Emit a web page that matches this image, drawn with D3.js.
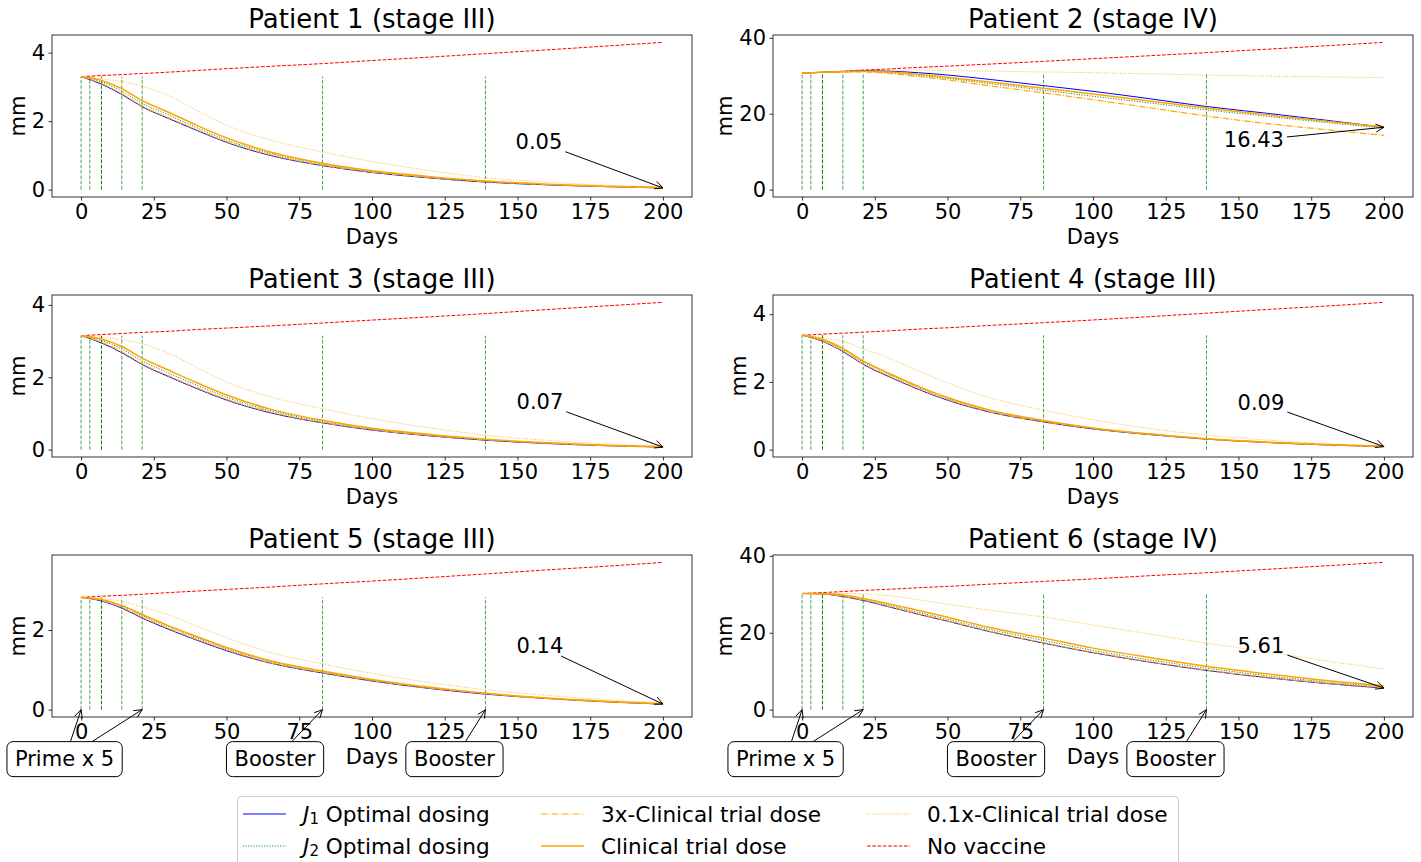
<!DOCTYPE html>
<html>
<head>
<meta charset="utf-8">
<script src="https://cdn.jsdelivr.net/npm/d3@7"></script>
<style>
  body { margin: 0; background: #fff; }
  svg { display: block; font-family: "DejaVu Sans", sans-serif; }
</style>
</head>
<body>
<div id="chart"></div>
<script>
// sampled days for every curve
const days = [0, 7, 14, 21, 30, 40, 50, 65, 83, 100, 120, 139, 160, 180, 200];
// vaccine doses (prime x 5, then two boosters)
const doseDays = [0, 3, 7, 14, 21, 83, 139];
const xTicks = [0, 25, 50, 75, 100, 125, 150, 175, 200];

const titles = ["Patient 1 (stage III)", "Patient 2 (stage IV)", "Patient 3 (stage III)",
                "Patient 4 (stage III)", "Patient 5 (stage III)", "Patient 6 (stage IV)"];
const yTicks = [[0, 2, 4], [0, 20, 40], [0, 2, 4], [0, 2, 4], [0, 2], [0, 20, 40]];
const finalLabels = ["0.05", "16.43", "0.07", "0.09", "0.14", "5.61"];

// tumour size (mm), one row per patient
const j1Optimal = [
  [3.30, 3.08, 2.78, 2.42, 2.08, 1.72, 1.38, 1.00, 0.70, 0.50, 0.34, 0.22, 0.14, 0.09, 0.05],
  [30.7, 30.9, 31.1, 31.3, 31.2, 30.8, 30.2, 29.0, 27.4, 25.9, 23.9, 21.9, 20.1, 18.3, 16.43],
  [3.15, 2.95, 2.68, 2.35, 2.02, 1.68, 1.37, 1.02, 0.74, 0.54, 0.38, 0.26, 0.17, 0.11, 0.07],
  [3.38, 3.20, 2.90, 2.52, 2.15, 1.78, 1.46, 1.10, 0.82, 0.61, 0.44, 0.31, 0.21, 0.14, 0.09],
  [2.82, 2.73, 2.55, 2.30, 2.02, 1.74, 1.48, 1.17, 0.92, 0.72, 0.53, 0.39, 0.28, 0.20, 0.14],
  [30.2, 30.1, 29.4, 28.4, 26.7, 24.8, 23.0, 20.2, 17.3, 14.8, 12.3, 10.2, 8.3, 6.8, 5.61]
];
const j2Optimal = [
  [3.30, 3.15, 2.88, 2.52, 2.18, 1.80, 1.45, 1.06, 0.74, 0.53, 0.37, 0.24, 0.15, 0.09, 0.06],
  [30.7, 30.9, 31.0, 31.1, 30.8, 30.1, 29.3, 27.9, 26.2, 24.6, 22.8, 21.0, 19.3, 17.7, 16.2],
  [3.15, 3.02, 2.78, 2.45, 2.12, 1.77, 1.45, 1.08, 0.78, 0.57, 0.41, 0.28, 0.19, 0.12, 0.08],
  [3.38, 3.24, 2.96, 2.59, 2.22, 1.84, 1.51, 1.14, 0.85, 0.63, 0.46, 0.32, 0.22, 0.14, 0.09],
  [2.82, 2.76, 2.60, 2.36, 2.08, 1.80, 1.53, 1.21, 0.95, 0.74, 0.55, 0.41, 0.29, 0.20, 0.14],
  [30.2, 30.15, 29.6, 28.6, 27.1, 25.3, 23.5, 20.8, 18.0, 15.4, 12.9, 10.8, 8.8, 7.2, 5.95]
];
const dose3x = [
  [3.30, 3.10, 2.80, 2.44, 2.10, 1.74, 1.40, 1.02, 0.71, 0.51, 0.35, 0.23, 0.15, 0.09, 0.05],
  [30.7, 30.9, 31.0, 31.0, 30.6, 29.8, 28.9, 27.3, 25.5, 23.7, 21.5, 19.4, 17.4, 15.8, 14.3],
  [3.15, 2.97, 2.70, 2.37, 2.04, 1.70, 1.39, 1.04, 0.75, 0.55, 0.39, 0.27, 0.18, 0.11, 0.07],
  [3.38, 3.21, 2.92, 2.54, 2.17, 1.80, 1.48, 1.11, 0.83, 0.62, 0.45, 0.31, 0.21, 0.14, 0.09],
  [2.82, 2.74, 2.57, 2.32, 2.04, 1.76, 1.50, 1.18, 0.93, 0.73, 0.54, 0.40, 0.28, 0.20, 0.14],
  [30.2, 30.1, 29.45, 28.5, 26.8, 24.9, 23.1, 20.3, 17.4, 14.9, 12.4, 10.3, 8.4, 6.9, 5.7]
];
const clinicalDose = [
  [3.30, 3.19, 2.95, 2.60, 2.26, 1.87, 1.51, 1.10, 0.77, 0.55, 0.38, 0.25, 0.16, 0.10, 0.06],
  [30.7, 30.9, 31.1, 31.2, 31.0, 30.4, 29.6, 28.3, 26.7, 25.2, 23.3, 21.5, 19.7, 18.0, 16.5],
  [3.15, 3.06, 2.85, 2.53, 2.20, 1.84, 1.51, 1.12, 0.81, 0.59, 0.42, 0.29, 0.19, 0.12, 0.08],
  [3.38, 3.26, 2.99, 2.62, 2.25, 1.87, 1.54, 1.16, 0.86, 0.64, 0.46, 0.32, 0.22, 0.15, 0.10],
  [2.82, 2.77, 2.62, 2.39, 2.11, 1.83, 1.56, 1.23, 0.97, 0.76, 0.56, 0.41, 0.29, 0.21, 0.15],
  [30.2, 30.2, 29.8, 28.9, 27.5, 25.8, 24.0, 21.3, 18.6, 16.0, 13.5, 11.3, 9.3, 7.6, 6.2]
];
const dose01x = [
  [3.30, 3.23, 3.16, 3.02, 2.75, 2.30, 1.88, 1.45, 1.10, 0.82, 0.55, 0.35, 0.22, 0.13, 0.08],
  [30.7, 30.9, 31.1, 31.4, 31.5, 31.5, 31.4, 31.2, 31.0, 30.8, 30.5, 30.2, 29.9, 29.7, 29.5],
  [3.15, 3.10, 3.04, 2.92, 2.67, 2.26, 1.87, 1.46, 1.13, 0.86, 0.60, 0.40, 0.26, 0.16, 0.10],
  [3.38, 3.31, 3.20, 2.98, 2.70, 2.32, 1.97, 1.52, 1.17, 0.88, 0.62, 0.43, 0.28, 0.18, 0.12],
  [2.82, 2.79, 2.72, 2.58, 2.38, 2.09, 1.81, 1.44, 1.15, 0.91, 0.68, 0.50, 0.36, 0.25, 0.17],
  [30.2, 30.2, 30.2, 30.1, 29.6, 28.6, 27.4, 25.8, 24.1, 22.0, 19.6, 17.3, 15.0, 12.7, 10.6]
];
const noVaccine = [
  [3.30, 3.33, 3.36, 3.39, 3.43, 3.48, 3.53, 3.60, 3.68, 3.77, 3.87, 3.97, 4.08, 4.19, 4.30],
  [30.7, 30.95, 31.2, 31.5, 31.8, 32.2, 32.55, 33.1, 33.8, 34.5, 35.3, 36.1, 37.0, 37.9, 38.8],
  [3.15, 3.18, 3.21, 3.24, 3.27, 3.32, 3.36, 3.42, 3.50, 3.58, 3.67, 3.76, 3.87, 3.97, 4.07],
  [3.38, 3.41, 3.44, 3.47, 3.51, 3.56, 3.60, 3.67, 3.75, 3.83, 3.93, 4.03, 4.14, 4.24, 4.35],
  [2.82, 2.85, 2.87, 2.90, 2.94, 2.98, 3.02, 3.08, 3.16, 3.23, 3.32, 3.41, 3.51, 3.60, 3.70],
  [30.2, 30.45, 30.7, 31.0, 31.3, 31.7, 32.05, 32.65, 33.35, 34.0, 34.85, 35.6, 36.5, 37.4, 38.3]
];

// drawing order: bottom first
const series = [
  { name: "No vaccine", data: noVaccine, color: "red", width: 1, dash: "3.7,1.6", opacity: 1 },
  { name: "0.1x-Clinical trial dose", data: dose01x, color: "orange", width: 1, dash: "1,1.65", opacity: 0.8 },
  { name: "J1", data: j1Optimal, color: "blue", width: 1, dash: null, opacity: 1 },
  { name: "J2", data: j2Optimal, color: "green", width: 1, dash: "1,1.65", opacity: 1 },
  { name: "Clinical trial dose", data: clinicalDose, color: "orange", width: 1.5, dash: null, opacity: 1 },
  { name: "3x-Clinical trial dose", data: dose3x, color: "orange", width: 1.2, dash: "6.4,1.6,1,1.6", opacity: 1 }
];
const byName = {};
series.forEach(s => byName[s.name] = s);

const W = 1421, H = 862;
const panelW = 640, panelH = 162;
const lefts = [52, 773], tops = [35, 295, 555];

const svg = d3.select("#chart").append("svg")
  .attr("width", W)
  .attr("height", H);

// open "->" arrow from (x1,y1) to (x2,y2)
function arrow(g, x1, y1, x2, y2) {
  g.append("line")
    .attr("x1", x1).attr("y1", y1).attr("x2", x2).attr("y2", y2)
    .attr("stroke", "black").attr("stroke-width", 1);
  const ang = Math.atan2(y2 - y1, x2 - x1);
  const len = 9, spread = 0.45;
  const p = [
    [x2 - len * Math.cos(ang - spread), y2 - len * Math.sin(ang - spread)],
    [x2, y2],
    [x2 - len * Math.cos(ang + spread), y2 - len * Math.sin(ang + spread)]
  ];
  g.append("path")
    .attr("d", d3.line()(p))
    .attr("fill", "none").attr("stroke", "black").attr("stroke-width", 1);
}

// point where the line centre->target leaves a box of half sizes hw, hh
function edgePoint(cx, cy, hw, hh, tx, ty) {
  const dx = tx - cx, dy = ty - cy;
  const t = Math.min(hw / Math.abs(dx || 1e-9), hh / Math.abs(dy || 1e-9));
  return [cx + dx * t, cy + dy * t];
}

// offset (px) of the final value label from its arrow tip
const labelOffsets = [[-124, -46], [-130, 13], [-123, -45], [-123, -44], [-123, -58], [-123, -42]];
// dose callouts under the bottom row: box centre offset from x(day), y(0)
const callouts = [
  { text: "Prime x 5", targets: [0, 21], anchorDay: 0, dx: -16.5 },
  { text: "Booster", targets: [83], anchorDay: 83, dx: -47.5 },
  { text: "Booster", targets: [139], anchorDay: 139, dx: -31 }
];

titles.forEach((title, i) => {
  const left = lefts[i % 2], top = tops[Math.floor(i / 2)];
  const g = svg.append("g");

  const dayPad = (d3.max(days) - d3.min(days)) * 0.05;
  const x = d3.scaleLinear()
    .domain([d3.min(days) - dayPad, d3.max(days) + dayPad])
    .range([left, left + panelW]);
  const yMax = d3.max(series, s => d3.max(s.data[i]));
  const yPad = yMax * 0.05;
  const y = d3.scaleLinear()
    .domain([-yPad, yMax + yPad])
    .range([top + panelH, top]);

  // dose markers
  const start = j1Optimal[i][0];
  g.selectAll(".dose")
    .data(doseDays)
    .join("line")
      .attr("x1", d => x(d)).attr("x2", d => x(d))
      .attr("y1", y(0)).attr("y2", y(start))
      .attr("stroke", "green")
      .attr("stroke-width", 1)
      .attr("stroke-dasharray", "3.7,1.6")
      .attr("opacity", (d, k) => k === 2 ? 1 : 0.7);

  const line = d3.line()
    .x((d, k) => x(days[k]))
    .y(d => y(d))
    .curve(d3.curveMonotoneX);

  series.forEach(s => {
    g.append("path")
      .attr("d", line(s.data[i]))
      .attr("fill", "none")
      .attr("stroke", s.color)
      .attr("stroke-width", s.width)
      .attr("stroke-dasharray", s.dash)
      .attr("opacity", s.opacity);
  });

  // frame
  g.append("rect")
    .attr("x", left).attr("y", top)
    .attr("width", panelW).attr("height", panelH)
    .attr("fill", "none").attr("stroke", "black").attr("stroke-width", 0.8);

  const xAxis = g.append("g")
    .attr("transform", `translate(0,${top + panelH})`)
    .call(d3.axisBottom(x).tickValues(xTicks).tickSize(3.5).tickPadding(3.5));
  const yAxis = g.append("g")
    .attr("transform", `translate(${left},0)`)
    .call(d3.axisLeft(y).tickValues(yTicks[i]).tickFormat(d3.format("d"))
      .tickSize(3.5).tickPadding(3.5));
  [xAxis, yAxis].forEach(a => {
    a.select(".domain").remove();
    a.selectAll("text").style("font-size", "21px").attr("fill", "black")
      .style("font-family", "DejaVu Sans");
    a.selectAll("line").attr("stroke-width", 0.8);
  });
  const tickW = d3.max(yAxis.selectAll("text").nodes(), n => n.getBBox().width);

  g.append("text")
    .attr("x", left + panelW / 2).attr("y", top - 7)
    .attr("text-anchor", "middle")
    .style("font-size", "26px")
    .text(title);
  g.append("text")
    .attr("x", left + panelW / 2).attr("y", top + panelH + 47)
    .attr("text-anchor", "middle")
    .style("font-size", "21px")
    .text("Days");
  g.append("text")
    .attr("transform", `translate(${left - 7 - tickW - 7},${top + panelH / 2}) rotate(-90)`)
    .attr("text-anchor", "middle")
    .style("font-size", "21px")
    .text("mm");

  // final value annotation
  const tipX = x(200), tipY = y(j1Optimal[i][days.length - 1]);
  const lx = tipX + labelOffsets[i][0], ly = tipY + labelOffsets[i][1];
  const lab = g.append("text")
    .attr("x", lx).attr("y", ly)
    .attr("text-anchor", "middle")
    .attr("dominant-baseline", "central")
    .style("font-size", "21px")
    .text(finalLabels[i]);
  const bb = lab.node().getBBox();
  const s0 = edgePoint(lx, ly, bb.width / 2 + 3, bb.height / 2 - 2, tipX, tipY);
  arrow(g, s0[0], s0[1], tipX, tipY);

  // dose callouts only under the bottom row
  if (Math.floor(i / 2) === 2) {
    callouts.forEach(c => {
      const cg = g.append("g");
      const cx = x(c.anchorDay) + c.dx, cy = y(0) + 49.5;
      const box = cg.append("rect");
      const t = cg.append("text")
        .attr("x", cx).attr("y", cy)
        .attr("text-anchor", "middle")
        .attr("dominant-baseline", "central")
        .style("font-size", "21px")
        .text(c.text);
      const tb = t.node().getBBox();
      const hw = tb.width / 2 + 8, hh = 17.5;
      box.attr("x", cx - hw).attr("y", cy - hh)
        .attr("width", hw * 2).attr("height", hh * 2)
        .attr("rx", 6)
        .attr("fill", "white").attr("stroke", "black").attr("stroke-width", 1);
      c.targets.forEach(d => {
        const p = edgePoint(cx, cy, hw, hh, x(d), y(0));
        arrow(cg, p[0], p[1], x(d), y(0));
      });
    });
  }
});

// legend
const legendItems = [
  { label: ["J", "1", " Optimal dosing"], s: byName["J1"], col: 0, row: 0 },
  { label: ["J", "2", " Optimal dosing"], s: byName["J2"], col: 0, row: 1 },
  { label: "3x-Clinical trial dose", s: byName["3x-Clinical trial dose"], col: 1, row: 0 },
  { label: "Clinical trial dose", s: byName["Clinical trial dose"], col: 1, row: 1 },
  { label: "0.1x-Clinical trial dose", s: byName["0.1x-Clinical trial dose"], col: 2, row: 0 },
  { label: "No vaccine", s: byName["No vaccine"], col: 2, row: 1 }
];
const legend = svg.append("g");
legend.append("rect")
  .attr("x", 237.5).attr("y", 796.5)
  .attr("width", 941).attr("height", 72)
  .attr("rx", 4)
  .attr("fill", "white").attr("stroke", "#cccccc").attr("stroke-width", 1);
const colX = [243, 541, 867];
const rowY = [814, 846];
legendItems.forEach(it => {
  const lx = colX[it.col], ly = rowY[it.row];
  legend.append("line")
    .attr("x1", lx).attr("x2", lx + 43)
    .attr("y1", ly).attr("y2", ly)
    .attr("stroke", it.s.color)
    .attr("stroke-width", it.s.width)
    .attr("stroke-dasharray", it.s.dash)
    .attr("opacity", it.s.opacity);
  const t = legend.append("text")
    .attr("x", lx + 60).attr("y", ly)
    .attr("dominant-baseline", "central")
    .style("font-size", "21.6px");
  if (Array.isArray(it.label)) {
    t.append("tspan").style("font-style", "italic").text(it.label[0]);
    t.append("tspan").attr("dy", 5).style("font-size", "15px").text(it.label[1]);
    t.append("tspan").attr("dy", -5).text(it.label[2]);
  } else {
    t.text(it.label);
  }
});
</script>
</body>
</html>
